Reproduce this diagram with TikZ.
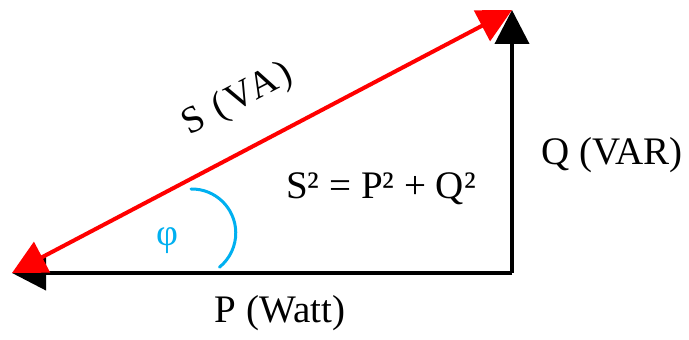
\documentclass[tikz,border=0pt]{standalone}
\usepackage{fontspec}
\setmainfont{Liberation Serif}
\usetikzlibrary{arrows.meta}
\definecolor{phasor}{HTML}{FF0000}
\definecolor{angle}{HTML}{00B0F0}
\tikzset{side/.style={-{Triangle[length=34pt,width=34pt]},line width=4pt,black},
vecS/.style={{Triangle[length=34pt,width=34pt]}-{Triangle[length=34pt,width=34pt]},line width=4pt,phasor},
lab/.style={font=\fontsize{39}{43}\selectfont,inner sep=0pt}}

\begin{document}
\begin{tikzpicture}[x=1pt,y=1pt]
\useasboundingbox (0,0) rectangle (689,340);
\coordinate (O) at (12,67);
\coordinate (C) at (512,67);
\coordinate (T) at (512,330);
\draw[side] (C)--(O);
\draw[side] (C)--(T);
\draw[vecS] (T)--(O);
\draw[angle,line width=3pt,line cap=round] (191,151) arc[start angle=91,end angle=-51,radius=44];
\node[lab,text=angle,font=\fontsize{38}{42}\selectfont] (phi) at (167,99) {φ};
\node[lab,rotate=27.7,font=\fontsize{38}{42}\selectfont\addfontfeature{LetterSpace=8}] (S) at (238,240) {S (VA)};
\node[lab] (Q) at (612,185) {Q (VAR)};
\node[lab] (P) at (280,27) {P (Watt)};
\node[lab] (eq) at (381,151) {S² = P² + Q²};
\end{tikzpicture}
\end{document}
